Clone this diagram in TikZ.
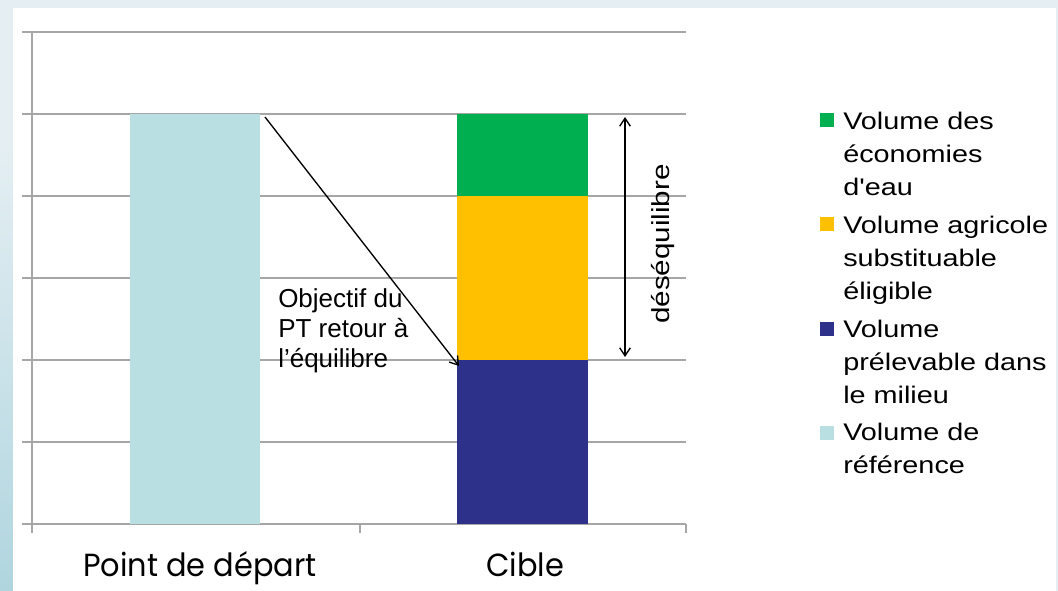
\documentclass[tikz,border=0pt]{standalone}
\usepackage{fontspec}
\setmainfont{Liberation Sans}
\newfontfamily\legfont[FakeStretch=1.2]{Liberation Sans}
\newfontfamily\catfont[FakeStretch=0.95]{Poppins}
\usetikzlibrary{arrows.meta}

\definecolor{volref}{RGB}{185,223,226}
\definecolor{voleco}{RGB}{0,176,80}
\definecolor{volagri}{RGB}{255,192,0}
\definecolor{volmilieu}{RGB}{46,49,137}
\definecolor{gris}{RGB}{166,166,166}
\definecolor{fondclair}{RGB}{229,239,243}
\definecolor{fondbleu}{RGB}{176,213,223}

\tikzset{
  gridline/.style={gris, line width=1pt},
  legtext/.style={font=\legfont\fontsize{18}{25}\selectfont, align=left, anchor=north west, inner sep=0pt},
  cattext/.style={font=\catfont\fontsize{24}{28}\selectfont, anchor=base, inner sep=0pt}
}

\begin{document}
\begin{tikzpicture}[x=0.75pt, y=-0.75pt, >={Straight Barb[length=6pt, width=8pt]}]
    \useasboundingbox (0,0) rectangle (1058,591);
    % fond
    \fill[fondclair] (0,0) rectangle (1058,591);
    \shade[top color=fondclair, bottom color=fondbleu] (0,140) rectangle (13,591);
    \fill[white] (13,8) rectangle (1056,591);

    % grille et axes
    \draw[gridline] (22,32) -- (686,32);
    \draw[gridline] (22,114) -- (686,114);
    \draw[gridline] (22,196) -- (686,196);
    \draw[gridline] (22,278) -- (686,278);
    \draw[gridline] (22,360) -- (686,360);
    \draw[gridline] (22,442) -- (686,442);
    \draw[gridline] (22,524) -- (686,524);
    \draw[gridline] (32,32) -- (32,533);
    \draw[gridline] (360,524) -- (360,533);
    \draw[gridline] (686,524) -- (686,533);

    % barres
    \fill[volref] (130,114) rectangle (260,524);
    \fill[voleco] (457,114) rectangle (588,196);
    \fill[volagri] (457,196) rectangle (588,360);
    \fill[volmilieu] (457,360) rectangle (588,524);

    \node[cattext] (catdepart) at (200,577) {Point de départ};
    \node[cattext] (catcible) at (525,577) {Cible};

    % objectif
    \coordinate (haut) at (265,117);
    \coordinate (equilibre) at (459,366);
    \draw[->, line width=1pt] (haut) -- (equilibre);
    \node[font=\fontsize{19.5}{22.5}\selectfont, align=left, anchor=north west, inner sep=0pt]
         (objectif) at (278,288) {Objectif du\\PT retour à\\l’équilibre};

    % desequilibre
    \coordinate (deshaut) at (625,117);
    \coordinate (desbas) at (625,357);
    \draw[<->, line width=1pt] (deshaut) -- (desbas);
    \node[font=\legfont\fontsize{18.5}{22}\selectfont, rotate=90, inner sep=0pt] (desequ) at (663,244) {déséquilibre};

    % legende
    \fill[voleco] (820,113) rectangle (834,127);
    \node[legtext] (legeco) at (843,111.5) {Volume des\\économies\\d'eau};
    \fill[volagri] (820,217) rectangle (834,231);
    \node[legtext] (legagri) at (843,215.5) {Volume agricole\\substituable\\éligible};
    \fill[volmilieu] (820,322) rectangle (834,336);
    \node[legtext] (legmilieu) at (843,319.5) {Volume\\prélevable dans\\le milieu};
    \fill[volref] (820,426) rectangle (834,440);
    \node[legtext] (legref) at (843,422.5) {Volume de\\référence};
\end{tikzpicture}
\end{document}
